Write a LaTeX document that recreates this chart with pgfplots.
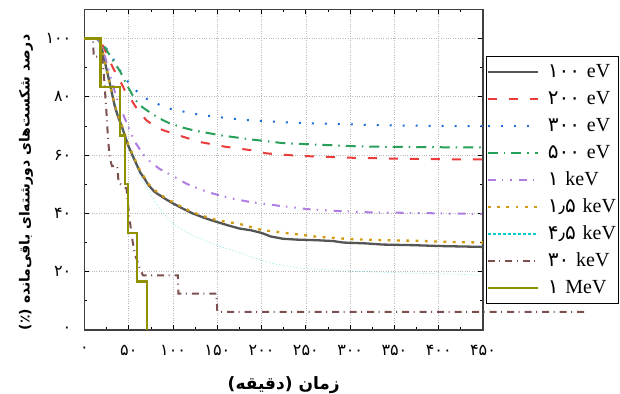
\documentclass[border=0pt]{standalone}
\usepackage{pgfplots}
\pgfplotsset{compat=1.18}
\usepackage{fontspec}
\setmainfont{Liberation Serif}
\newfontfamily\arabicfont[Script=Arabic]{DejaVu Sans}
\TeXXeTstate=1
\definecolor{c100}{RGB}{85,85,85}
\definecolor{c200}{RGB}{235,60,60}
\definecolor{c300}{RGB}{30,110,220}
\definecolor{c500}{RGB}{40,160,90}
\definecolor{c1k}{RGB}{175,125,225}
\definecolor{c15k}{RGB}{210,155,15}
\definecolor{c45k}{RGB}{0,205,205}
\definecolor{c30k}{RGB}{125,80,80}
\definecolor{c1M}{RGB}{145,145,0}
\begin{document}
\begin{tikzpicture}
\begin{axis}[
  scale only axis, width=398.5bp, height=320.7bp,
  xmin=0, xmax=450, ymin=0, ymax=110,
  clip=false,
  xtick={0,50,...,450},
  xticklabels={۰,۵۰,۱۰۰,۱۵۰,۲۰۰,۲۵۰,۳۰۰,۳۵۰,۴۰۰,۴۵۰},
  ytick={0,20,...,100},
  yticklabels={۰,۲۰,۴۰,۶۰,۸۰,۱۰۰},
  minor x tick num=1, minor y tick num=1,
  grid=major, major grid style={gray!55, dotted, line width=0.7bp},
  axis line style={black!75, line width=1.1bp},
  major tick length=5bp, minor tick length=3bp,
  every tick/.style={black, line width=0.8bp},
  xticklabel style={font=\arabicfont\fontsize{16bp}{18bp}\selectfont, anchor=center, yshift=-20bp},
  yticklabel style={font=\arabicfont\fontsize{16bp}{18bp}\selectfont, anchor=east, inner sep=0pt, xshift=-13bp},
  xlabel={\arabicfont\bfseries\fontsize{17bp}{20bp}\selectfont\beginR زمان (دقیقه)\endR},
  xlabel style={at={(axis description cs:0.5,-0.171)}, anchor=center},
  ylabel={\arabicfont\bfseries\fontsize{14bp}{17bp}\selectfont\beginR درصد شکست‌های دورشته‌ای باقی‌مانده (٪)\endR},
  ylabel style={at={(axis description cs:-0.147,0.46)}, anchor=center},
  legend image code/.code={\draw[#1] (0bp,0bp) -- (50bp,0bp);},
  legend style={at={(axis description cs:1.0075,0.854)}, anchor=north west,
    draw=black, line width=1bp, fill=white, inner xsep=0bp, inner ysep=2bp,
    font=\fontsize{20bp}{24bp}\selectfont,
    nodes={inner xsep=1bp, inner ysep=5bp, text height=14bp, text depth=3bp},
    /tikz/every odd column/.append style={column sep=8bp},
    /tikz/every even column/.append style={text width=70bp}},
  legend cell align=left,
]
\addplot[c100, line width=2.3bp, line join=round] coordinates {
(0,100)(12,100)(15,99.7)(17,99)(20,96)(23,92)(26,88)(29,84)(34,77)(38,73)(42,70)(49,63.5)(57,58)(63,54)(68,51.8)(72,49.8)(79,47.4)(90,45.2)(100,43.4)(110,41.8)(122,40)(135,38.5)(149,37.1)(162,35.9)(175,34.8)(188,34.2)(200,33.3)(210,32.1)(224,31.3)(240,31.0)(262,30.8)(281,30.5)(292,30.0)(318,29.7)(337,29.3)(371,29.1)(401,28.8)(450,28.5)};
\addlegendentry{{\arabicfont ۱۰۰} eV}
\addplot[c200, line width=2bp, dash pattern=on 9bp off 12bp] coordinates {
(0,100)(14,100)(17,99.5)(20,98)(25,94.8)(32,90)(40,85.6)(45,82.5)(51,79.8)(60,75.5)(70,71.9)(80,69.8)(89,68.5)(108,66.6)(130,64.5)(160,62.8)(190,61.6)(205,60.6)(230,60)(254,59.6)(299,59.1)(348,58.8)(397,58.6)(450,58.5)};
\addlegendentry{{\arabicfont ۲۰۰} eV}
\addplot[c300, line width=2bp, dash pattern=on 2bp off 11bp] coordinates {
(0,100)(14,100)(17,99.7)(21,98.3)(28,95)(36,91.3)(42,88)(49,85.2)(58,82.2)(66,80)(77,78.2)(96,75.9)(123,74.2)(149,73.1)(179,72.1)(194,71.8)(235,71.1)(281,70.7)(337,70.2)(394,70.0)(450,69.9)};
\addlegendentry{{\arabicfont ۳۰۰} eV}
\addplot[c500, line width=2bp, dash pattern=on 10bp off 6bp on 1.5bp off 6bp] coordinates {
(0,100)(14,100)(17,99.5)(20,98.5)(25,96)(31,93)(40,88.8)(48,84)(57,79)(65,76.5)(74,74.6)(85,72.5)(96,70.9)(110,69.5)(123,68.5)(153,66.8)(187,65.4)(224,64.1)(262,63.6)(307,63.0)(345,62.8)(394,62.7)(450,62.6)};
\addlegendentry{{\arabicfont ۵۰۰} eV}
\addplot[c1k, line width=2bp, dash pattern=on 8bp off 6bp on 1.5bp off 7bp on 1.5bp off 7bp] coordinates {
(0,100)(13,100)(17,99)(20,97)(23,94)(26,90.5)(31,85)(36,80)(40,76.5)(47,71.5)(56,65)(66,60.3)(75,57.5)(85,55.2)(100,52.8)(115,50.2)(130,48.3)(145,46.8)(165,45.2)(187,43.9)(220,42.6)(254,41.4)(288,40.8)(326,40.3)(363,40.2)(401,40.0)(450,39.8)};
\addlegendentry{{\arabicfont ۱} keV}
\addplot[c15k, line width=2.3bp, dash pattern=on 2.8bp off 6.5bp] coordinates {
(0,100)(12,100)(15,99.7)(17,99)(20,96)(23,92)(26,88)(29,84)(34,77.5)(38,73.5)(42,70.3)(49,64)(57,58.4)(63,54.5)(68,52.2)(72,50.2)(79,48)(90,45.6)(100,43.8)(110,42.2)(122,40.4)(135,39)(149,37.7)(162,37)(175,36.4)(187,35.4)(200,34.3)(224,33.4)(262,32)(299,31.2)(337,30.8)(375,30.6)(412,30.2)(450,30.0)};
\addlegendentry{{\arabicfont ۱٫۵} keV}
\addlegendimage{c45k, line width=2bp, dash pattern=on 3bp off 2bp}
\addlegendentry{{\arabicfont ۴٫۵} keV}
\addplot[c45k, line width=0.8bp, opacity=0.3, dash pattern=on 1.5bp off 2bp, forget plot] coordinates {
(0,100)(12,100)(15,99.5)(18,97.5)(24,91)(30,83)(36,76)(43,69)(50,63)(57,57.5)(65,51.5)(74,46.8)(85,41.5)(95,38)(104,35.5)(123,32.3)(149,29.1)(183,25.7)(209,23)(243,21.2)(299,20.2)(356,19.6)(412,19.2)(450,18.8)};
\addplot[c30k, line width=2bp, dash pattern=on 7bp off 4.5bp on 1bp off 5bp] coordinates {
(0,100)(9.5,100)(10.5,93.75)(20,93.75)(22,87)(24.5,76)(26.5,66)(28.5,59)(31,56.25)(37,56.25)(38.5,50.5)(47.5,48.5)(50.5,39)(54,31)(57,26)(62,21.5)(66,18.75)(105.5,18.75)(106,12.5)(149,12.5)(150,6.25)(565,6.25)};
\addlegendentry{{\arabicfont ۳۰} keV}
\addplot[c1M, line width=2.5bp] coordinates {
(0,100)(18,100)(18,83.33)(40,83.33)(40,66.67)(45.5,66.67)(45.5,50)(49.2,50)(49.2,33.33)(59.4,33.33)(59.4,16.67)(70.7,16.67)(70.7,0)};
\addlegendentry{{\arabicfont ۱} MeV}
\end{axis}
\pgfresetboundingbox
\path (current axis.south west) ++(-84.5bp,-64bp) rectangle ++(620bp,394bp);
\end{tikzpicture}
\end{document}
